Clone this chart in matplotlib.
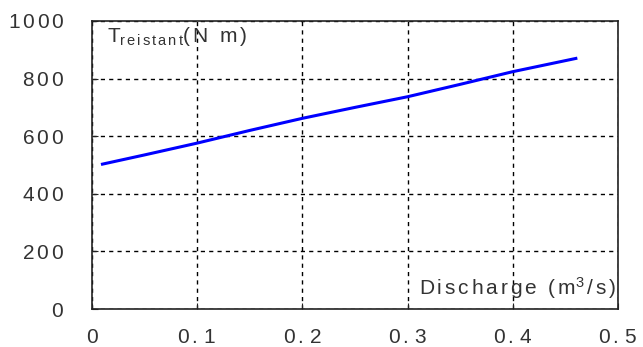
import matplotlib.pyplot as plt

plt.rcParams['font.family'] = ['Liberation Sans', 'DejaVu Sans']
plt.rcParams['mathtext.fontset'] = 'custom'
plt.rcParams['mathtext.rm'] = 'Liberation Sans'
plt.rcParams['mathtext.it'] = 'Liberation Sans'

# discharge (m3/s) vs resisting torque (N m)
discharge = [0.01, 0.05, 0.1, 0.15, 0.2, 0.25, 0.3, 0.35, 0.4, 0.46]
torque = [503, 535, 576, 620, 662, 700, 737, 780, 824, 870]

x_ticks = [0, 0.1, 0.2, 0.3, 0.4, 0.5]
y_ticks = [0, 200, 400, 600, 800, 1000]
x_labels = ['0', '0.1', '0.2', '0.3', '0.4', '0.5']
y_labels = ['0', '200', '400', '600', '800', '1000']


def spaced(s):
    # wide letter spacing like the original chart
    return r'$\mathrm{' + r'\,'.join(s) + '}$'


fig = plt.figure(figsize=(6.43, 3.47), dpi=100)
ax = fig.add_axes([0.143, 0.1095, 0.818, 0.83])

ax.plot(discharge, torque, color='#0000ff', linewidth=2.2)

ax.set_xlim(0, 0.5)
ax.set_ylim(0, 1000)
ax.set_xticks(x_ticks)
ax.set_yticks(y_ticks)
ax.set_xticklabels([spaced(s) for s in x_labels])
ax.set_yticklabels([spaced(s) for s in y_labels])
ax.tick_params(direction='in', length=4, labelsize=15, labelcolor='#333333', color='#222222')
ax.tick_params(axis='y', pad=20)
ax.tick_params(axis='x', pad=14)

ax.grid(True, linestyle=(0, (3, 3)), color='black', linewidth=1)
for s in ax.spines.values():
    s.set_linewidth(1.2)
    s.set_color('#222222')

ax.text(0.028, 0.927,
        r'$\mathrm{T}_{\mathrm{r\,e\,i\,s\,t\,a\,n\,t}}\mathrm{(\,N\ \ m\,)}$',
        transform=ax.transAxes, fontsize=15, color='#333333', va='baseline', ha='left')
ax.text(0.998, 0.049,
        r'$\mathrm{D\,i\,s\,c\,h\,a\,r\,g\,e\ \ (\,m^{3}\,/\,s\,)}$',
        transform=ax.transAxes, fontsize=15, color='#333333', va='baseline', ha='right')

fig.savefig('out.png', dpi=100)
